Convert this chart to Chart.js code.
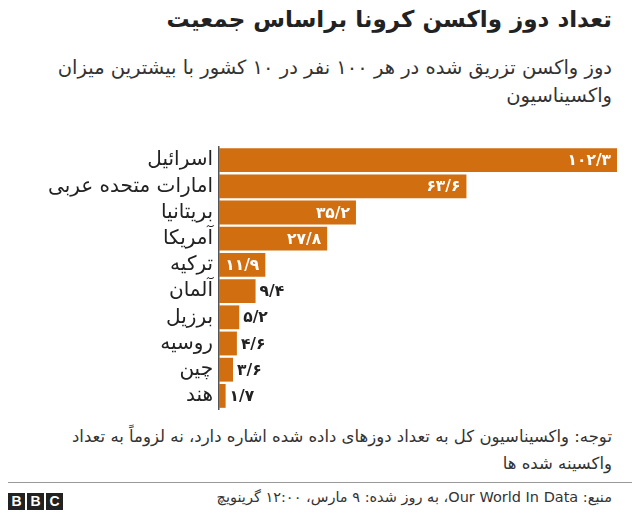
<!DOCTYPE html>
<html>
<head>
<meta charset="utf-8">
<script src="https://cdn.jsdelivr.net/npm/chart.js@4"></script>
<style>
  body { margin: 0; width: 640px; height: 520px; background: #fff; font-family: "DejaVu Sans", sans-serif; color: #222; overflow: hidden; }
  .rtl { position: absolute; direction: rtl; text-align: right; right: 28px; }
  #title { top: 6px; width: 600px; font-size: 23px; font-weight: bold; }
  #subtitle { top: 54px; width: 585px; font-size: 19.5px; line-height: 28px; color: #333; }
  #note { top: 423px; width: 595px; font-size: 16.5px; line-height: 27px; color: #333; }
  #rule { position: absolute; left: 8px; right: 8px; top: 482px; border-top: 1.5px solid #999; }
  #source { top: 489px; font-size: 14.5px; color: #333; }
  #bbc { position: absolute; left: 8px; top: 493px; display: flex; gap: 2px; }
  #bbc span { width: 17px; height: 17px; background: #222; color: #fff; font: bold 14px "Liberation Sans", sans-serif; text-align: center; line-height: 17px; }
  #wrap { position: absolute; left: 0; top: 129px; width: 640px; height: 298px; }
</style>
</head>
<body>
<div id="title" class="rtl">تعداد دوز واکسن کرونا براساس جمعیت</div>
<div id="subtitle" class="rtl">دوز واکسن تزریق شده در هر ۱۰۰ نفر در ۱۰ کشور با بیشترین میزان واکسیناسیون</div>
<div id="note" class="rtl">توجه: واکسیناسیون کل به تعداد دوزهای داده شده اشاره دارد، نه لزوماً به تعداد واکسینه شده ها</div>
<div id="wrap"><canvas id="myChart"></canvas></div>
<div id="rule"></div>
<div id="bbc"><span>B</span><span>B</span><span>C</span></div>
<div id="source" class="rtl">منبع: Our World In Data،  به روز شده: ۹ مارس، ۱۲:۰۰ گرینویچ</div>
<script>
var countries = ['اسرائیل', 'امارات متحده عربی', 'بریتانیا', 'آمریکا', 'ترکیه', 'آلمان', 'برزیل', 'روسیه', 'چین', 'هند'];
var dosesPer100 = [102.3, 63.6, 35.2, 27.8, 11.9, 9.4, 5.2, 4.6, 3.6, 1.7];

function toPersian(v) {
    var s = v.toFixed(1).replace('.', '/');
    return s.replace(/[0-9]/g, function(d) { return '۰۱۲۳۴۵۶۷۸۹'[d]; });
}

// draw the value on or next to each bar
var valueLabels = {
    id: 'valueLabels',
    afterDatasetsDraw: function(chart) {
        var ctx = chart.ctx;
        var meta = chart.getDatasetMeta(0);
        ctx.save();
        ctx.font = 'bold 15.5px "DejaVu Sans", sans-serif';
        ctx.textBaseline = 'middle';
        meta.data.forEach(function(bar, i) {
            var v = dosesPer100[i];
            var txt = toPersian(v);
            if (v > 10) {
                ctx.fillStyle = '#fff';
                ctx.textAlign = 'right';
                ctx.fillText(txt, bar.x - 6, bar.y + 1);
            } else {
                ctx.fillStyle = '#222';
                ctx.textAlign = 'left';
                ctx.fillText(txt, bar.x + 4, bar.y + 1);
            }
        });
        ctx.restore();
    }
};

var ctx = document.getElementById('myChart').getContext('2d');
var chart = new Chart(ctx, {
    type: 'bar',
    data: {
        labels: countries,
        datasets: [{
            data: dosesPer100,
            backgroundColor: '#d06e10',
            categoryPercentage: 0.91,
            barPercentage: 1
        }]
    },
    options: {
        indexAxis: 'y',
        responsive: true,
        maintainAspectRatio: false,
        animation: false,
        layout: { padding: { left: 0, right: 23, top: 7, bottom: 7 } },
        plugins: { legend: { display: false }, tooltip: { enabled: false } },
        scales: {
            x: { display: false, min: 0, max: 102.3 },
            y: {
                afterFit: function(scale) { scale.width = 219; },
                grid: { display: false, drawTicks: false },
                border: { display: true, color: '#555', width: 1.5 },
                ticks: {
                    autoSkip: false,
                    padding: 6,
                    color: '#222',
                    font: { family: '"DejaVu Sans", sans-serif', size: 20 }
                }
            }
        }
    },
    plugins: [valueLabels]
});
</script>
</body>
</html>
